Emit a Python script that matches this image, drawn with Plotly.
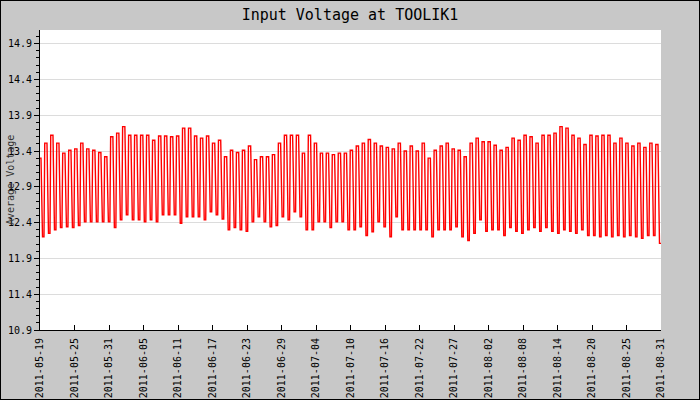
import plotly.graph_objects as go
import pandas as pd

# ---- data ----
day_dates = pd.date_range("2011-05-19", periods=104, freq="D")

day_high = [
    13.30, 13.51, 13.62, 13.51, 13.37, 13.41, 13.43, 13.51, 13.43, 13.41,
    13.38, 13.32, 13.60, 13.65, 13.74, 13.62, 13.62, 13.62, 13.62, 13.55,
    13.61, 13.61, 13.60, 13.61, 13.72, 13.72, 13.61, 13.58, 13.61, 13.51,
    13.55, 13.32, 13.41, 13.38, 13.41, 13.47,
    13.28, 13.32, 13.32, 13.35, 13.51, 13.62, 13.62, 13.62, 13.37, 13.62,
    13.51, 13.37, 13.37, 13.35, 13.37, 13.37, 13.41, 13.47, 13.51,
    13.56, 13.51, 13.47, 13.45, 13.43, 13.51, 13.40, 13.47, 13.40, 13.51,
    13.30, 13.41, 13.47, 13.51, 13.43, 13.41, 13.32, 13.51, 13.58,
    13.53, 13.53, 13.48, 13.41, 13.45, 13.58, 13.55, 13.62, 13.60, 13.51,
    13.62, 13.62, 13.65, 13.74, 13.72, 13.62,
    13.58, 13.49, 13.62, 13.61, 13.62, 13.62, 13.51, 13.58, 13.51, 13.47,
    13.51, 13.45, 13.51, 13.49,
]

day_low = [
    12.20, 12.25, 12.30, 12.33, 12.34, 12.33, 12.36, 12.41, 12.41, 12.41,
    12.41, 12.41, 12.33, 12.44, 12.51, 12.44, 12.44, 12.41, 12.44, 12.41,
    12.51, 12.51, 12.51, 12.39, 12.48, 12.48, 12.48, 12.44, 12.55, 12.51,
    12.45, 12.30, 12.33, 12.30, 12.28, 12.41,
    12.48, 12.41, 12.34, 12.36, 12.48, 12.44, 12.55, 12.48, 12.30, 12.30,
    12.41, 12.41, 12.33, 12.41, 12.41, 12.30, 12.30, 12.34, 12.22,
    12.27, 12.41, 12.34, 12.20, 12.48, 12.30, 12.30, 12.30, 12.30, 12.30,
    12.20, 12.30, 12.30, 12.30, 12.34, 12.20, 12.15, 12.25, 12.44,
    12.28, 12.30, 12.30, 12.22, 12.33, 12.28, 12.25, 12.30, 12.33, 12.28,
    12.33, 12.28, 12.25, 12.30, 12.28, 12.25,
    12.30, 12.22, 12.22, 12.20, 12.22, 12.20, 12.22, 12.20, 12.22, 12.20,
    12.18, 12.22, 12.22, 12.11,
]

tick_labels = [
    "2011-05-19", "2011-05-25", "2011-05-31", "2011-06-05", "2011-06-11",
    "2011-06-17", "2011-06-23", "2011-06-29", "2011-07-04", "2011-07-10",
    "2011-07-16", "2011-07-22", "2011-07-27", "2011-08-02", "2011-08-08",
    "2011-08-14", "2011-08-20", "2011-08-25", "2011-08-31",
]

x_start = pd.Timestamp("2011-05-19 12:00")
x_end = pd.Timestamp("2011-08-31 04:00")

# ---- build the daily cycle series ----
times, volts = [], []
for d, h, l in zip(day_dates, day_high, day_low):
    times += [d + pd.Timedelta(hours=7), d + pd.Timedelta(hours=16),
              d + pd.Timedelta(hours=22), d + pd.Timedelta(hours=28)]
    volts += [h, h, l, l]

n_int = len(tick_labels) - 1
tick_vals = [x_start + (x_end - x_start) * k / n_int for k in range(len(tick_labels))]

MONO = "DejaVu Sans Mono"

fig = go.Figure()
fig.add_trace(go.Scatter(
    x=times, y=volts, mode="lines",
    line=dict(color="#ff0000", width=1.4),
    hoverinfo="skip", showlegend=False,
))

fig.update_layout(
    width=700, height=400,
    paper_bgcolor="#c8c8c8", plot_bgcolor="#ffffff",
    margin=dict(l=40, r=39, t=30, b=70, autoexpand=False),
    title=dict(text="Input Voltage at TOOLIK1", x=0.5, xanchor="center",
               xref="container", y=1 - 15 / 400, yanchor="middle", yref="container",
               font=dict(family=MONO, size=15, color="#000000")),
    font=dict(family=MONO, size=10, color="#000000"),
    xaxis=dict(
        type="date", range=[x_start, x_end], automargin=False,
        tickmode="array", tickvals=tick_vals, ticktext=tick_labels,
        tickangle=-90, ticks="inside", ticklen=5, tickcolor="#000000",
        ticklabelstandoff=3,
        showgrid=False, zeroline=False,
        showline=True, linecolor="#000000", linewidth=1,
        tickfont=dict(family=MONO, size=10, color="#000000"),
    ),
    yaxis=dict(
        range=[10.9, 15.09], tick0=10.9, dtick=0.5, tickformat=".1f",
        automargin=False,
        ticks="outside", ticklen=5, tickcolor="#000000",
        showgrid=True, gridcolor="#dcdcdc", gridwidth=1, zeroline=False,
        showline=True, linecolor="#000000", linewidth=1,
        tickfont=dict(family=MONO, size=10, color="#000000"),
        minor=dict(dtick=0.1, tick0=10.9, ticks="outside", ticklen=3,
                   tickcolor="#000000", showgrid=False),
    ),
)

fig.add_annotation(
    text="Average Voltage", textangle=-90,
    xref="paper", yref="paper", x=0, y=0.5, xanchor="center", yanchor="middle",
    xshift=-30, showarrow=False,
    font=dict(family=MONO, size=10, color="#333333"),
)

# outer black frame around the image (half of a 2px stroke falls inside)
fig.add_shape(type="rect", xref="paper", yref="paper",
              x0=(0 - 40) / 621, x1=(700 - 40) / 621,
              y0=(330 - 400) / 300, y1=(330 - 0) / 300,
              line=dict(color="#000000", width=2), fillcolor="rgba(0,0,0,0)",
              layer="above")

fig.write_html("out.html")
